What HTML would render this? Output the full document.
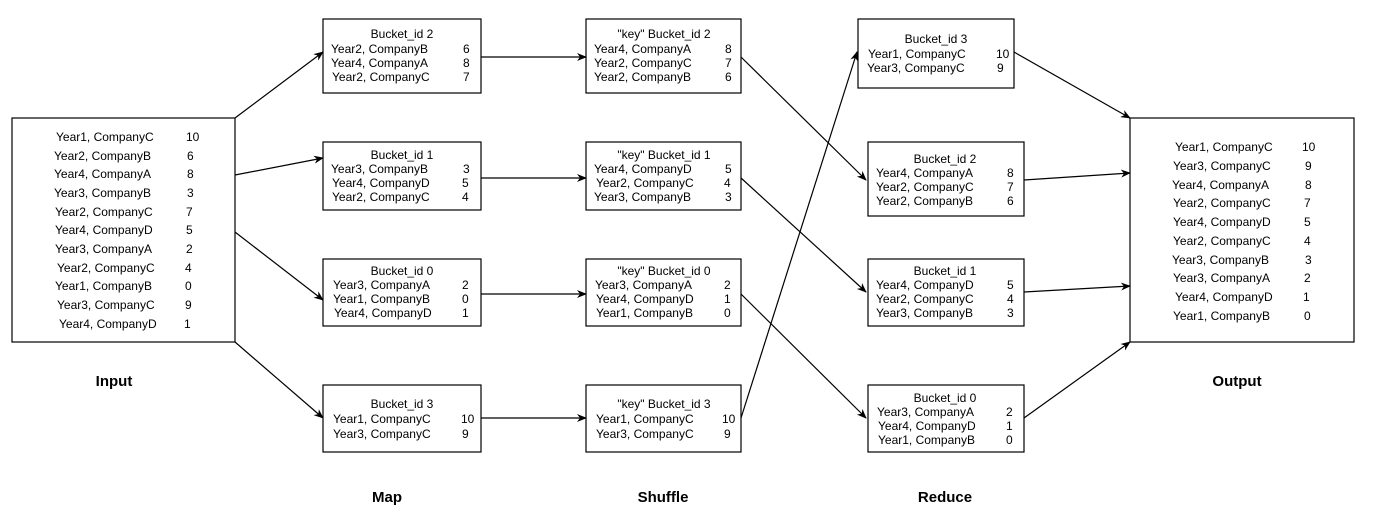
<!DOCTYPE html>
<html><head><meta charset="utf-8"><style>
html,body{margin:0;padding:0;background:#fff;}
svg{display:block;font-family:"Liberation Sans",Arial,sans-serif;}
</style></head><body>
<svg width="1384" height="522" viewBox="0 0 1384 522" xmlns="http://www.w3.org/2000/svg">
<defs><marker id="a" markerWidth="10" markerHeight="8" refX="9" refY="4" orient="auto" markerUnits="userSpaceOnUse"><path d="M0,0 L10,4 L0,8 L3,4 Z" fill="#000"/></marker></defs>
<g fill="#fff" stroke="#000" stroke-width="1.2">
<rect x="12" y="118" width="223" height="224"/>
<rect x="1130" y="118" width="224" height="224"/>
<rect x="323" y="19" width="158" height="74"/>
<rect x="323" y="142" width="158" height="68"/>
<rect x="323" y="259" width="158" height="67"/>
<rect x="323" y="385" width="158" height="67"/>
<rect x="586" y="19" width="155" height="74"/>
<rect x="586" y="142" width="155" height="68"/>
<rect x="586" y="259" width="155" height="67"/>
<rect x="586" y="385" width="155" height="67"/>
<rect x="858" y="19" width="156" height="69"/>
<rect x="868" y="142" width="156" height="74"/>
<rect x="868" y="259" width="156" height="67"/>
<rect x="868" y="385" width="156" height="67"/>
</g>
<g stroke="#000" stroke-width="1.2" fill="none" marker-end="url(#a)">
<line x1="235" y1="118" x2="323" y2="52"/>
<line x1="235" y1="175" x2="323" y2="158"/>
<line x1="235" y1="232" x2="323" y2="300"/>
<line x1="235" y1="342" x2="323" y2="418"/>
<line x1="481" y1="57" x2="586" y2="57"/>
<line x1="481" y1="178" x2="586" y2="178"/>
<line x1="481" y1="294" x2="586" y2="294"/>
<line x1="481" y1="418" x2="586" y2="418"/>
<line x1="741" y1="57" x2="866" y2="180"/>
<line x1="741" y1="178" x2="866" y2="292"/>
<line x1="741" y1="294" x2="866" y2="418"/>
<line x1="741" y1="418" x2="857" y2="52"/>
<line x1="1014" y1="52" x2="1130" y2="118"/>
<line x1="1024" y1="180" x2="1130" y2="173"/>
<line x1="1024" y1="292" x2="1130" y2="286"/>
<line x1="1024" y1="418" x2="1130" y2="342"/>
</g>
<g font-size="12" fill="#000">
<g>
<text x="56" y="141">Year1, CompanyC</text><text x="186" y="141">10</text>
<text x="54" y="160">Year2, CompanyB</text><text x="187" y="160">6</text>
<text x="54" y="178">Year4, CompanyA</text><text x="187" y="178">8</text>
<text x="54" y="197">Year3, CompanyB</text><text x="187" y="197">3</text>
<text x="55" y="216">Year2, CompanyC</text><text x="186" y="216">7</text>
<text x="55" y="234">Year4, CompanyD</text><text x="186" y="234">5</text>
<text x="55" y="253">Year3, CompanyA</text><text x="186" y="253">2</text>
<text x="57" y="272">Year2, CompanyC</text><text x="185" y="272">4</text>
<text x="55" y="290">Year1, CompanyB</text><text x="185" y="290">0</text>
<text x="57" y="309">Year3, CompanyC</text><text x="185" y="309">9</text>
<text x="59" y="328">Year4, CompanyD</text><text x="184" y="328">1</text>
</g>
<g>
<text x="1175" y="151">Year1, CompanyC</text><text x="1302" y="151">10</text>
<text x="1173" y="170">Year3, CompanyC</text><text x="1305" y="170">9</text>
<text x="1172" y="189">Year4, CompanyA</text><text x="1305" y="189">8</text>
<text x="1173" y="207">Year2, CompanyC</text><text x="1304" y="207">7</text>
<text x="1173" y="226">Year4, CompanyD</text><text x="1304" y="226">5</text>
<text x="1173" y="245">Year2, CompanyC</text><text x="1304" y="245">4</text>
<text x="1172" y="264">Year3, CompanyB</text><text x="1305" y="264">3</text>
<text x="1173" y="282">Year3, CompanyA</text><text x="1304" y="282">2</text>
<text x="1175" y="301">Year4, CompanyD</text><text x="1303" y="301">1</text>
<text x="1173" y="320">Year1, CompanyB</text><text x="1304" y="320">0</text>
</g>
<text x="402" y="38" text-anchor="middle">Bucket_id 2</text>
<text x="331" y="53">Year2, CompanyB</text><text x="463" y="53">6</text>
<text x="331" y="67">Year4, CompanyA</text><text x="463" y="67">8</text>
<text x="332" y="81">Year2, CompanyC</text><text x="463" y="81">7</text>
<text x="402" y="159" text-anchor="middle">Bucket_id 1</text>
<text x="331" y="173">Year3, CompanyB</text><text x="463" y="173">3</text>
<text x="332" y="187">Year4, CompanyD</text><text x="462" y="187">5</text>
<text x="332" y="201">Year2, CompanyC</text><text x="462" y="201">4</text>
<text x="402" y="275" text-anchor="middle">Bucket_id 0</text>
<text x="333" y="289">Year3, CompanyA</text><text x="462" y="289">2</text>
<text x="333" y="303">Year1, CompanyB</text><text x="462" y="303">0</text>
<text x="334" y="317">Year4, CompanyD</text><text x="462" y="317">1</text>
<text x="402" y="408" text-anchor="middle">Bucket_id 3</text>
<text x="333" y="423">Year1, CompanyC</text><text x="461" y="423">10</text>
<text x="333" y="438">Year3, CompanyC</text><text x="462" y="438">9</text>
<text x="664" y="38" text-anchor="middle">"key" Bucket_id 2</text>
<text x="594" y="53">Year4, CompanyA</text><text x="725" y="53">8</text>
<text x="594" y="67">Year2, CompanyC</text><text x="725" y="67">7</text>
<text x="594" y="81">Year2, CompanyB</text><text x="725" y="81">6</text>
<text x="664" y="159" text-anchor="middle">"key" Bucket_id 1</text>
<text x="594" y="173">Year4, CompanyD</text><text x="725" y="173">5</text>
<text x="596" y="187">Year2, CompanyC</text><text x="724" y="187">4</text>
<text x="594" y="201">Year3, CompanyB</text><text x="725" y="201">3</text>
<text x="664" y="275" text-anchor="middle">"key" Bucket_id 0</text>
<text x="595" y="289">Year3, CompanyA</text><text x="724" y="289">2</text>
<text x="596" y="303">Year4, CompanyD</text><text x="724" y="303">1</text>
<text x="596" y="317">Year1, CompanyB</text><text x="724" y="317">0</text>
<text x="664" y="408" text-anchor="middle">"key" Bucket_id 3</text>
<text x="596" y="423">Year1, CompanyC</text><text x="722" y="423">10</text>
<text x="596" y="438">Year3, CompanyC</text><text x="724" y="438">9</text>
<text x="936" y="43" text-anchor="middle">Bucket_id 3</text>
<text x="868" y="58">Year1, CompanyC</text><text x="996" y="58">10</text>
<text x="867" y="72">Year3, CompanyC</text><text x="997" y="72">9</text>
<text x="945" y="163" text-anchor="middle">Bucket_id 2</text>
<text x="876" y="177">Year4, CompanyA</text><text x="1007" y="177">8</text>
<text x="876" y="191">Year2, CompanyC</text><text x="1007" y="191">7</text>
<text x="876" y="205">Year2, CompanyB</text><text x="1007" y="205">6</text>
<text x="945" y="275" text-anchor="middle">Bucket_id 1</text>
<text x="876" y="289">Year4, CompanyD</text><text x="1007" y="289">5</text>
<text x="876" y="303">Year2, CompanyC</text><text x="1007" y="303">4</text>
<text x="876" y="317">Year3, CompanyB</text><text x="1007" y="317">3</text>
<text x="945" y="402" text-anchor="middle">Bucket_id 0</text>
<text x="877" y="416">Year3, CompanyA</text><text x="1006" y="416">2</text>
<text x="878" y="430">Year4, CompanyD</text><text x="1006" y="430">1</text>
<text x="878" y="444">Year1, CompanyB</text><text x="1006" y="444">0</text>
</g>
<g font-size="15" font-weight="bold" text-anchor="middle">
<text x="114" y="386">Input</text>
<text x="1237" y="386">Output</text>
<text x="387" y="502">Map</text>
<text x="663" y="502">Shuffle</text>
<text x="945" y="502">Reduce</text>
</g>
</svg>
</body></html>
